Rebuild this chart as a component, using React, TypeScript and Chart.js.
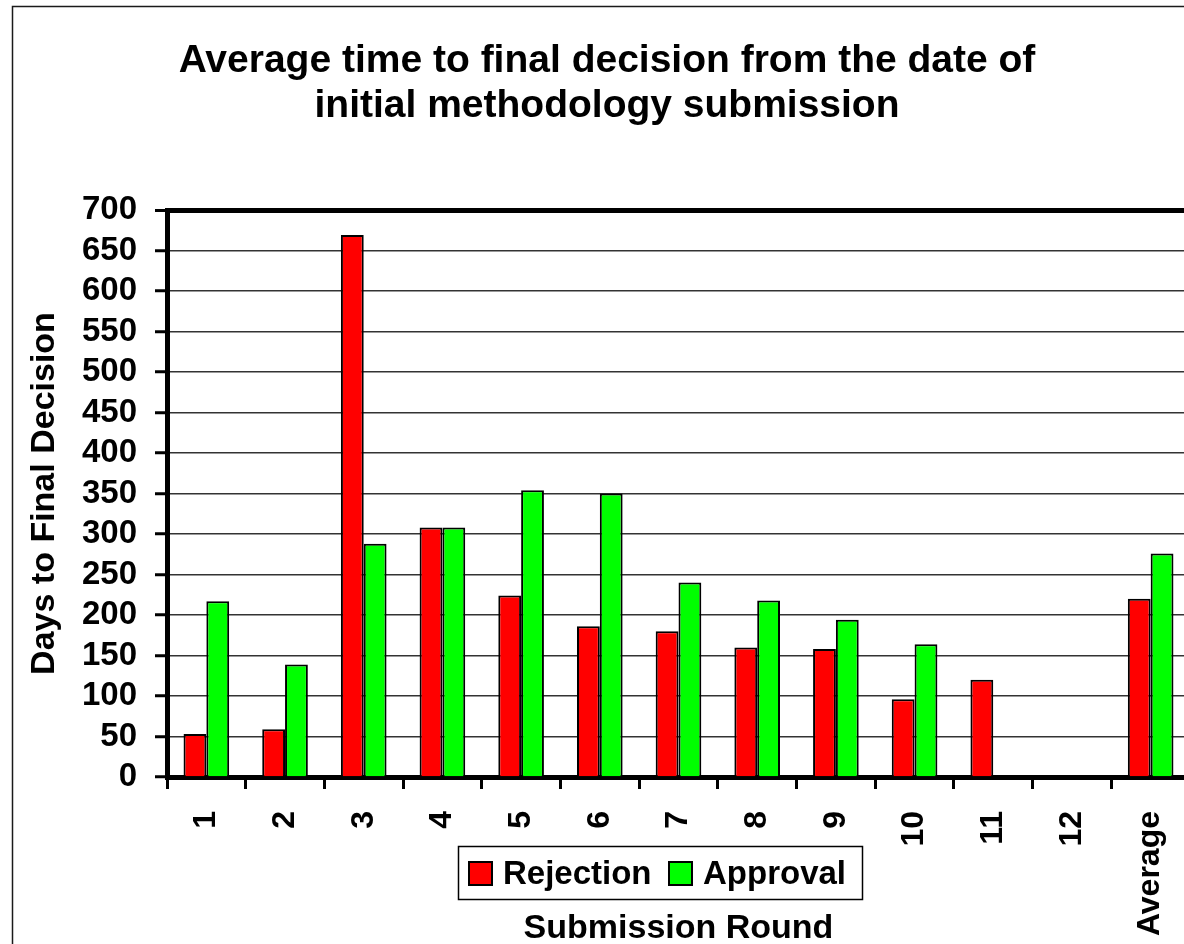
import React, { useEffect, useRef } from 'react';
import { Chart, registerables } from 'chart.js';

Chart.register(...registerables);

const categories = ['1', '2', '3', '4', '5', '6', '7', '8', '9', '10', '11', '12', 'Average'];
const rejection = [53, 59, 669, 308, 224, 186, 180, 160, 158, 96, 120, null, 220];
const approval = [217, 139, 288, 308, 354, 350, 240, 218, 194, 164, null, null, 276];
const seriesNames = ['Rejection', 'Approval'];
const seriesColors = ['#FF0000', '#00FF00'];
const yMin = 0;
const yMax = 700;
const yStep = 50;
const titleLines = ['Average time to final decision from the date of', 'initial methodology submission'];
const yAxisTitle = 'Days to Final Decision';
const xAxisTitle = 'Submission Round';

const FONT = '"Liberation Sans", Arial, Helvetica, sans-serif';

const frameBackground = {
  id: 'frameBackground',
  beforeDraw(chart: any) {
    const { ctx, width, height } = chart;
    ctx.save();
    ctx.fillStyle = '#ffffff';
    ctx.fillRect(0, 0, width, height);
    ctx.strokeStyle = '#1a1a1a';
    ctx.lineWidth = 1.5;
    ctx.beginPath();
    ctx.moveTo(12.5, height);
    ctx.lineTo(12.5, 6.5);
    ctx.lineTo(width, 6.5);
    ctx.stroke();
    ctx.restore();
  },
};

const boxLegend = {
  id: 'boxLegend',
  afterDraw(chart: any) {
    const { ctx } = chart;
    ctx.save();
    const bx = 458, by = 846, bw = 404, bh = 53;
    ctx.fillStyle = '#ffffff';
    ctx.fillRect(bx, by, bw, bh);
    ctx.strokeStyle = '#000000';
    ctx.lineWidth = 1.5;
    ctx.strokeRect(bx + 0.5, by + 0.5, bw, bh);
    const items = [
      { sx: 469, tx: 503 },
      { sx: 669, tx: 703 },
    ];
    ctx.font = `bold 33px ${FONT}`;
    ctx.textBaseline = 'alphabetic';
    ctx.textAlign = 'left';
    chart.data.datasets.forEach((ds: any, i: number) => {
      const it = items[i];
      ctx.fillStyle = ds.backgroundColor;
      ctx.fillRect(it.sx, 862, 23, 23);
      ctx.lineWidth = 2;
      ctx.strokeStyle = '#000000';
      ctx.strokeRect(it.sx, 862, 23, 23);
      ctx.fillStyle = '#000000';
      ctx.fillText(ds.label, it.tx, 884);
    });
    ctx.restore();
  },
};

export default function App() {
  const ref = useRef<HTMLCanvasElement | null>(null);

  useEffect(() => {
    if (!ref.current) return;
    const chart = new Chart(ref.current, {
      type: 'bar',
      data: {
        labels: categories,
        datasets: [
          {
            label: seriesNames[0],
            data: rejection,
            backgroundColor: seriesColors[0],
            borderColor: '#000000',
            borderWidth: 2,
            categoryPercentage: 0.58,
            barPercentage: 1.0,
          },
          {
            label: seriesNames[1],
            data: approval,
            backgroundColor: seriesColors[1],
            borderColor: '#000000',
            borderWidth: 2,
            categoryPercentage: 0.58,
            barPercentage: 1.0,
          },
        ],
      },
      options: {
        responsive: false,
        animation: false,
        devicePixelRatio: 1,
        layout: { padding: { left: 24, right: 24, top: 0, bottom: 0 } },
        plugins: {
          legend: { display: false },
          tooltip: { enabled: false },
          title: {
            display: true,
            text: titleLines,
            color: '#000000',
            font: { family: FONT, size: 39, weight: 'bold', lineHeight: 1.154 },
            padding: { top: 39, bottom: 81 },
          },
        },
        scales: {
          x: {
            type: 'category',
            offset: true,
            grid: {
              display: true,
              offset: true,
              drawOnChartArea: false,
              drawTicks: true,
              tickLength: 12,
              tickWidth: 3,
              tickColor: '#000000',
            },
            border: { display: true, color: '#000000', width: 5 },
            ticks: {
              color: '#000000',
              font: { family: FONT, size: 32, weight: 'bold' },
              maxRotation: 90,
              minRotation: 90,
              padding: 22,
              autoSkip: false,
            },
            title: {
              display: true,
              text: xAxisTitle,
              color: '#000000',
              font: { family: FONT, size: 34, weight: 'bold' },
              padding: { top: 0, bottom: 10.6 },
            },
            afterFit(scale: any) {
              scale.height = 183;
            },
          },
          y: {
            min: yMin,
            max: yMax,
            ticks: {
              stepSize: yStep,
              autoSkip: false,
              color: '#000000',
              font: { family: FONT, size: 33, weight: 'bold' },
              padding: 18,
            },
            grid: {
              color: (c: any) => (c.tick && c.tick.value === yMax ? '#000000' : '#333333'),
              lineWidth: (c: any) => (c.tick && c.tick.value === yMax ? 5 : 1.5),
              drawTicks: true,
              tickLength: 12,
              tickWidth: 3,
              tickColor: '#000000',
            },
            border: { display: true, color: '#000000', width: 5 },
            title: {
              display: true,
              text: yAxisTitle,
              color: '#000000',
              font: { family: FONT, size: 34, weight: 'bold' },
              padding: { top: 0, bottom: 0 },
            },
            afterFit(scale: any) {
              scale.width = 143;
            },
          },
        },
      },
      plugins: [frameBackground, boxLegend],
    } as any);
    return () => chart.destroy();
  }, []);

  return (
    <div
      style={{
        position: 'fixed',
        left: 0,
        top: 0,
        width: 1184,
        height: 944,
        overflow: 'hidden',
        background: '#ffffff',
      }}
    >
      <canvas ref={ref} width={1214} height={960} style={{ display: 'block', width: 1214, height: 960 }} />
    </div>
  );
}
